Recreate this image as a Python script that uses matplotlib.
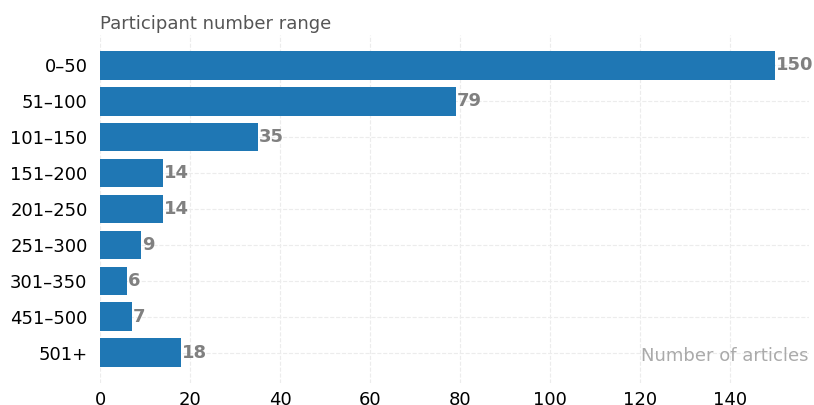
import matplotlib
matplotlib.use("Agg")
import matplotlib.pyplot as plt

plt.rcParams["font.family"] = ["DejaVu Sans"]

categories = ["0–50", "51–100", "101–150", "151–200", "201–250",
              "251–300", "301–350", "451–500", "501+"]
counts = [150, 79, 35, 14, 14, 9, 6, 7, 18]

fig = plt.figure(figsize=(8.14, 4.05), dpi=100)
ax = fig.add_axes([100/814, 22/405, 708.75/814, 348/405])

ypos = list(range(len(categories)))
bars = ax.barh(ypos, counts, height=0.8, color="#1f77b4", zorder=2)
ax.invert_yaxis()
ax.set_yticks(ypos)
ax.set_yticklabels(categories)

for b, v in zip(bars, counts):
    ax.text(b.get_width() + 0.3, b.get_y() + b.get_height()/2, str(v),
            va="center", ha="left", fontsize=13, fontweight="bold", color="#808080")

for s in ax.spines.values():
    s.set_visible(False)
ax.tick_params(axis="both", length=0, labelsize=13, colors="black")
ax.tick_params(axis="x", pad=5.5)
ax.tick_params(axis="y", pad=9)
ax.grid(True, color="#ececec", linestyle="--", linewidth=0.8, zorder=0)
ax.set_axisbelow(True)

ax.set_title("Participant number range", loc="left", fontsize=13, color="#555555", pad=4)
ax.text(1.0, 0.078, "Number of articles", transform=ax.transAxes, ha="right",
        va="center", fontsize=13, color="#aaaaaa")

fig.savefig("out.png", dpi=100)
